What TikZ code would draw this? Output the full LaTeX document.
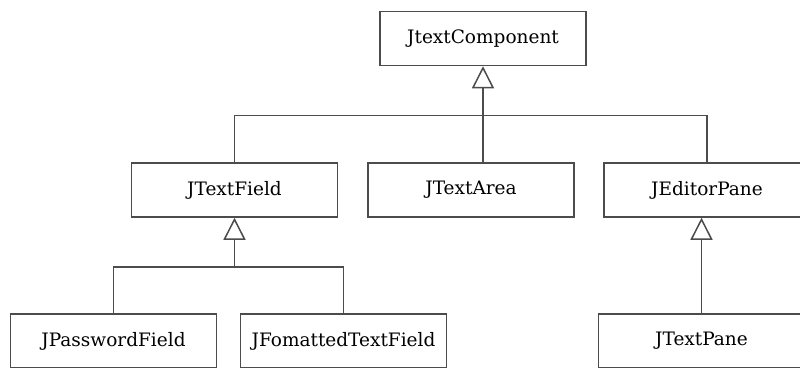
\documentclass[tikz,border=0pt]{standalone}
\usepackage{fontspec}
\setmainfont{DejaVu Serif}
\usepackage{tikz}
\usetikzlibrary{arrows.meta, positioning, calc}

\begin{document}
\begin{tikzpicture}[
  x=1pt, y=-1pt,
  cls/.style={draw=black!70, line width=1.5pt, fill=white, minimum width=206pt,
              minimum height=54pt, inner sep=0pt, font=\fontsize{18.5}{22}\selectfont},
  wire/.style={draw=black!70, line width=1.5pt},
  inh/.style={wire, -{Triangle[open, length=22pt, width=22pt]}}
]
  \useasboundingbox (0,0) rectangle (800,367);

  % Top
  \node[cls] (comp) at (483,38.5) {JtextComponent};

  % Second row
  \node[cls] (field)  at (234.5,190) {JTextField};
  \node[cls] (area)   at (471,190)   {JTextArea};
  \node[cls] (editor) at (707,190)   {JEditorPane};

  % Third row
  \node[cls] (password)  at (113.5,341) {JPasswordField};
  \node[cls] (formatted) at (343.5,341) {JFomattedTextField};
  \node[cls] (pane)      at (701.5,341) {JTextPane};

  % junctions
  \coordinate[below=49pt of comp.south] (j1);
  \coordinate[below=49pt of field.south] (j2);

  % wires
  \draw[inh] (j1) -- (comp.south);
  \draw[wire] (field.north) |- (j1) -| (editor.north);
  \draw[wire] (j1 |- area.north) -- (j1);
  \draw[inh] (j2) -- (field.south);
  \draw[wire] (password.north) |- (j2) -| (formatted.north);
  \draw[inh] (pane.north) -- (pane.north |- editor.south);
\end{tikzpicture}
\end{document}
